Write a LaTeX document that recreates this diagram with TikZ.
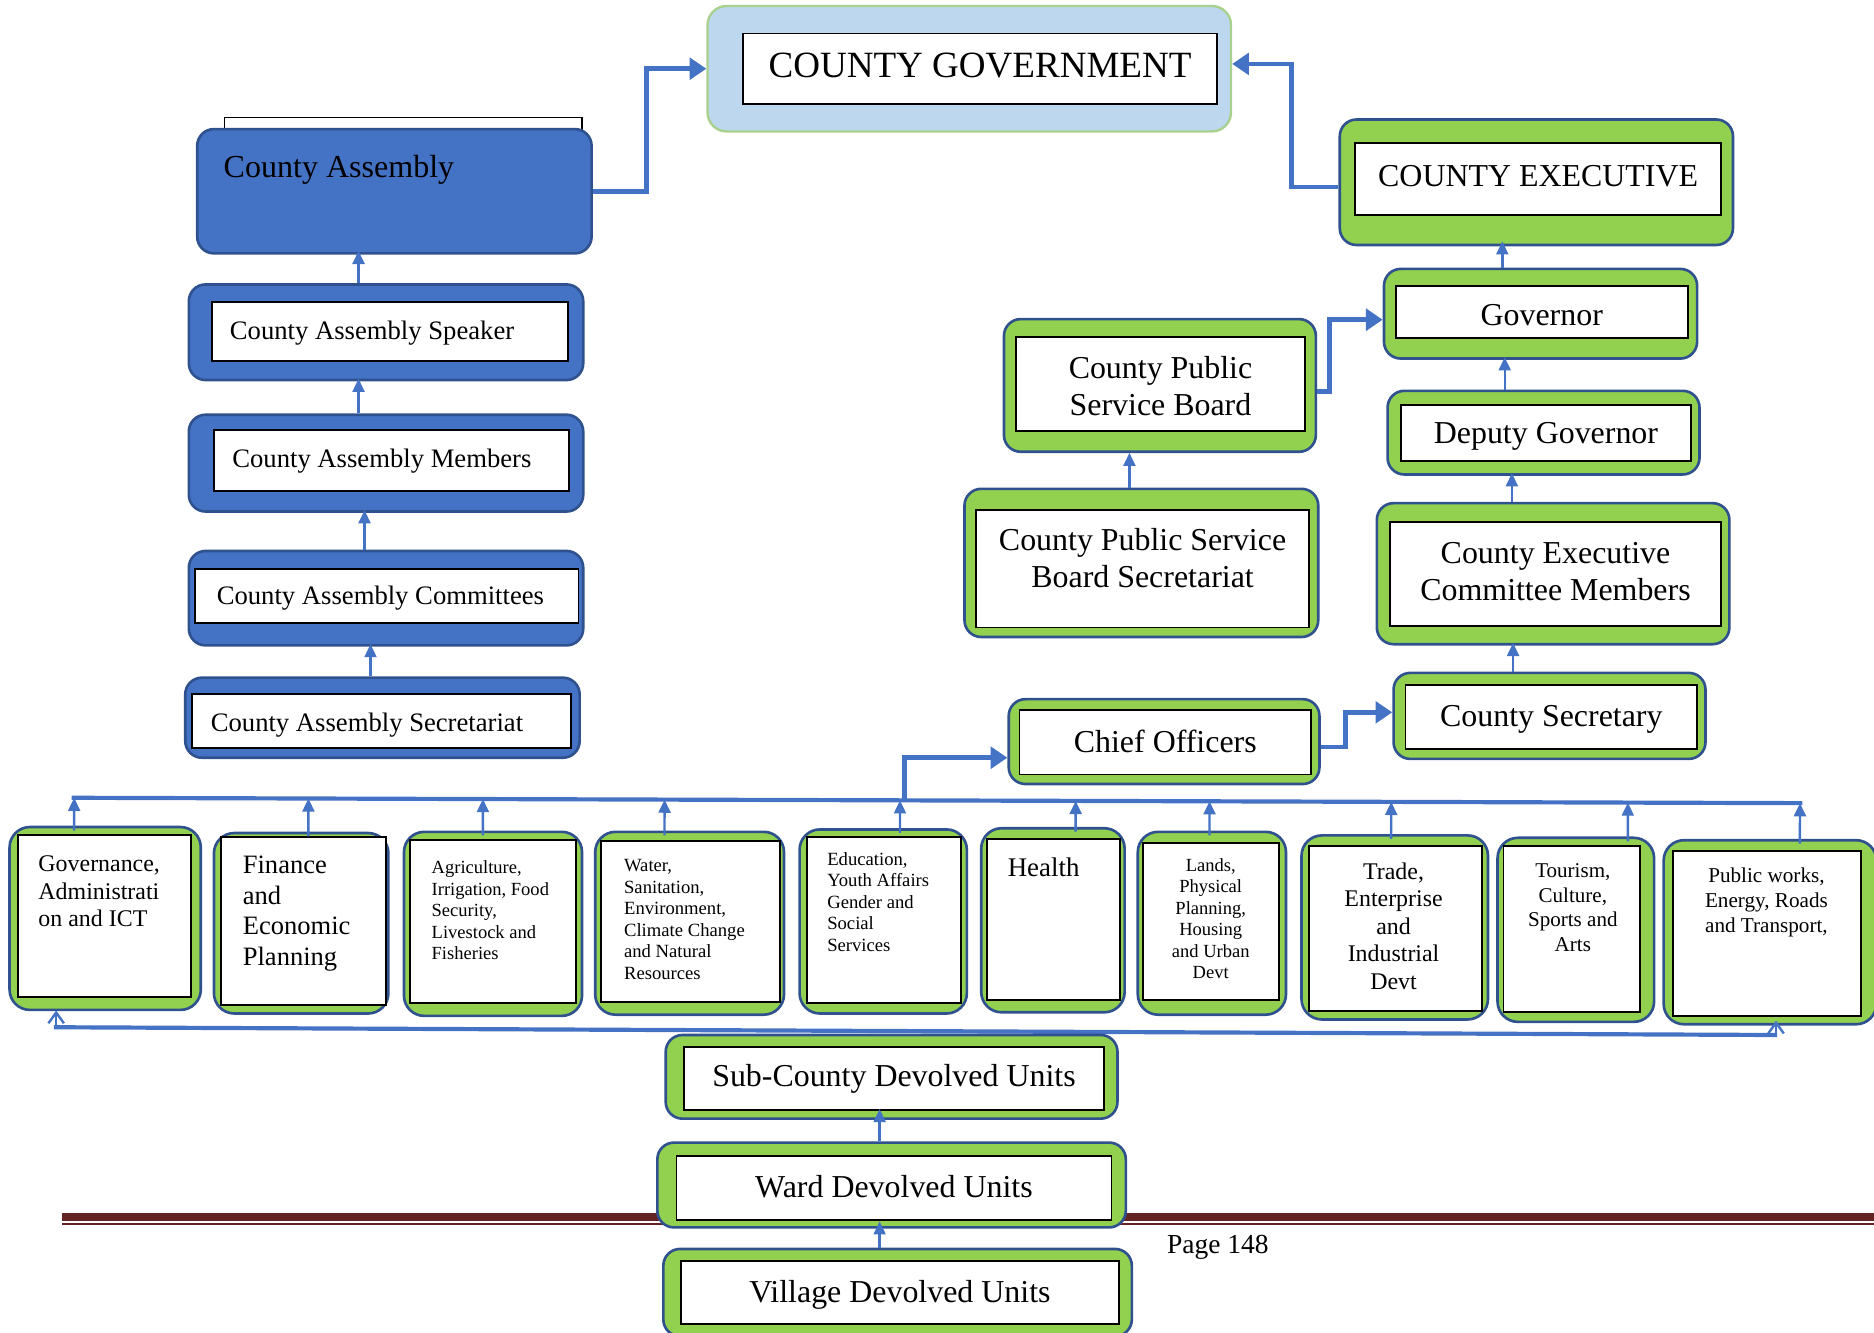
\documentclass[tikz,border=0pt]{standalone}
\usepackage{fontspec}
\setmainfont{Liberation Serif}
\usetikzlibrary{arrows.meta,calc}
\definecolor{cblue}{HTML}{4472C4}
\definecolor{cdark}{HTML}{2F528F}
\definecolor{cgreen}{HTML}{92D050}
\definecolor{clight}{HTML}{BDD7EE}
\definecolor{cgborder}{HTML}{A9D18E}
\definecolor{cfoot}{HTML}{632423}
\begin{document}
\begin{tikzpicture}[x=1pt,y=-1pt,
 greenbox/.style={draw=cdark, fill=cgreen, line width=2.2pt, rounded corners=14pt, inner sep=0pt},
 deptbox/.style={greenbox, rounded corners=17pt},
 bluebox/.style={draw=cdark, fill=cblue, line width=2.2pt, rounded corners=14pt, inner sep=0pt},
 whitebox/.style={draw=black, fill=white, line width=1.6pt, inner sep=0pt},
 txt/.style={inner sep=0pt, align=center},
 bigfont/.style={font=\fontsize{26.7}{30.7}\selectfont},
 leftfont/.style={font=\fontsize{22.3}{25.6}\selectfont},
 thickcon/.style={draw=cblue, line width=4pt, -{Triangle[length=14pt,width=18pt]}},
 thincon/.style={draw=cblue, line width=2pt, -{Triangle[length=11pt,width=10pt]}},
 busline/.style={draw=cblue, line width=3.5pt},
 barbcon/.style={draw=cblue, line width=2pt, -{Straight Barb[length=9pt,width=13pt]}},
]
\useasboundingbox (0,0) rectangle (1568,1115);

% footer rule
\coordinate (fl) at (52,1018.5);
\coordinate (fr) at (1570,1018.5);
\draw[cfoot, line width=7pt] (fl) -- (fr);
\draw[cfoot, line width=1.7pt] ($(fl)+(0,5.8)$) -- ($(fr)+(0,5.8)$);
\node[txt, font=\fontsize{23}{26}\selectfont] (page) at (1019,1044) {Page 148};

% County government
\node[draw=cgborder, fill=clight, line width=2pt, rounded corners=16pt, minimum width=438pt, minimum height=105pt] (govO) at (811,57.5) {};
\node[whitebox, minimum width=396pt, minimum height=59pt] (gov) at (820,57.5) {};
\node[txt, font=\fontsize{31}{35}\selectfont] (govT) at ($(gov)+(0,-3)$) {COUNTY GOVERNMENT};

% County assembly
\node[draw=black, fill=white, line width=1pt, minimum width=299pt, minimum height=30pt] (caBack) at (337.5,113) {};
\node[bluebox, minimum width=330pt, minimum height=104pt] (caO) at (330,160) {};
\node[txt, anchor=west, font=\fontsize{26.8}{30}\selectfont] (caT) at (187,142) {County Assembly};

\node[bluebox, minimum width=330pt, minimum height=80pt] (spO) at (323,278) {};
\node[whitebox, minimum width=298pt, minimum height=49pt] (sp) at (326,277.5) {};
\node[txt, leftfont, anchor=west] (spT) at ($(sp.west)+(16,1)$) {County Assembly Speaker};
\node[bluebox, minimum width=330pt, minimum height=81pt] (memO) at (323,387.5) {};
\node[whitebox, minimum width=297pt, minimum height=51pt] (mem) at (327.5,385.5) {};
\node[txt, leftfont, anchor=west] (memT) at ($(mem.west)+(16,0)$) {County Assembly Members};
\node[bluebox, minimum width=330pt, minimum height=79pt] (comO) at (323,500.5) {};
\node[whitebox, minimum width=321pt, minimum height=45pt] (com) at (323.5,498.5) {};
\node[txt, leftfont, anchor=west] (comT) at ($(com.west)+(19,2)$) {County Assembly Committees};
\node[bluebox, minimum width=330pt, minimum height=67pt] (secO) at (320,600.5) {};
\node[whitebox, minimum width=317pt, minimum height=45pt] (sec) at (319.5,603.5) {};
\node[txt, leftfont, anchor=west] (secT) at ($(sec.west)+(16,3)$) {County Assembly Secretariat};

% County executive side
\node[greenbox, minimum width=329pt, minimum height=105pt] (ceO) at (1285.5,152.5) {};
\node[whitebox, minimum width=306pt, minimum height=60pt] (ce) at (1287,150) {};
\node[txt, bigfont] (ceT) at ($(ce)+(0,-3)$) {COUNTY EXECUTIVE};
\node[greenbox, minimum width=262pt, minimum height=75pt] (govnO) at (1289,262.5) {};
\node[whitebox, minimum width=244pt, minimum height=44pt] (govn) at (1290,261) {};
\node[txt, bigfont] (govnT) at ($(govn)+(0,3)$) {Governor};
\node[greenbox, minimum width=261pt, minimum height=70pt] (depO) at (1291.5,362) {};
\node[whitebox, minimum width=243pt, minimum height=47pt] (dep) at (1293.5,362.5) {};
\node[txt, bigfont] (depT) at ($(dep)+(0,3)$) {Deputy Governor};
\node[greenbox, minimum width=295pt, minimum height=118pt] (cecO) at (1299.5,480) {};
\node[whitebox, minimum width=277pt, minimum height=87pt] (cec) at (1301.5,480.5) {};
\node[txt, bigfont] (cecT) at ($(cec)+(0,-2)$) {County Executive\\Committee Members};
\node[greenbox, minimum width=261pt, minimum height=72pt] (csO) at (1296.5,599) {};
\node[whitebox, minimum width=244pt, minimum height=54pt] (cs) at (1298,600) {};
\node[txt, bigfont] (csT) at ($(cs)+(0,2)$) {County Secretary};
\node[greenbox, minimum width=260pt, minimum height=71pt] (coO) at (974,620.5) {};
\node[whitebox, minimum width=244pt, minimum height=54pt] (co) at (975,621) {};
\node[txt, bigfont] (coT) at ($(co)+(0,-1)$) {Chief Officers};
\node[greenbox, minimum width=261pt, minimum height=111pt] (cpsbO) at (970.5,322.5) {};
\node[whitebox, minimum width=242pt, minimum height=79pt] (cpsb) at (971,321.5) {};
\node[txt, bigfont] (cpsbT) at ($(cpsb)+(0,1.5)$) {County Public\\Service Board};
\node[greenbox, minimum width=296pt, minimum height=124pt] (cpssO) at (955,471) {};
\node[whitebox, minimum width=278pt, minimum height=98pt] (cpss) at (956,476) {};
\node[txt, bigfont] (cpssT) at ($(cpss)+(0,-9)$) {County Public Service\\Board Secretariat};

% connectors top
\draw[thickcon] (caO.east) -- ++(45,0) |- (govO.west);
\draw[thickcon] ($(ceO.west)+(0,4)$) -- ++(-39,0) |- ($(govO.east)+(0,-4)$);
\draw[thickcon] ($(cpsbO.east)+(0,5)$) -- ++(10,0) |- ($(govnO.west)+(0,5)$);
\draw[thickcon] ($(coO.east)+(0,4.5)$) -- ++(21,0) |- ($(csO.west)+(0,-3)$);

\draw[thincon] ($(spO.north)+(-23,0)$) -- ++(0,-27);
\draw[thincon] ($(memO.north)+(-23,0)$) -- ++(0,-29);
\draw[thincon] ($(comO.north)+(-18,0)$) -- ++(0,-33);
\draw[thincon] ($(secO.north)+(-10,0)$) -- ++(0,-27);
\draw[thincon] ($(govnO.north)+(-32,0)$) -- ++(0,-22);
\draw[thincon] ($(depO.north)+(-32.5,0)$) -- ++(0,-27);
\draw[thincon] ($(cecO.north)+(-34.5,0)$) -- ++(0,-24);
\draw[thincon] ($(csO.north)+(-30.5,0)$) -- ++(0,-24);
\draw[thincon] ($(cpssO.north)+(-10,0)$) -- ++(0,-29);

% departments
\node[deptbox, minimum width=160pt, minimum height=153pt] (d1O) at (88,768.5) {};
\node[whitebox, minimum width=145pt, minimum height=135pt] (d1) at (87.5,766.5) {};
\node[txt, anchor=north west, align=left, font=\fontsize{20}{23}\selectfont] (d1t) at (32,716) {Governance,\\Administrati\\on and ICT};

\node[deptbox, minimum width=146pt, minimum height=151pt] (d2O) at (252,772.5) {};
\node[whitebox, minimum width=138pt, minimum height=141pt] (d2) at (254,770.5) {};
\node[txt, anchor=north west, align=left, font=\fontsize{22.2}{25.7}\selectfont] (d2t) at (203,716) {Finance\\and\\Economic\\Planning};

\node[deptbox, minimum width=149pt, minimum height=154pt] (d3O) at (412.5,773) {};
\node[whitebox, minimum width=139pt, minimum height=136pt] (d3) at (412.5,771) {};
\node[txt, anchor=north west, align=left, font=\fontsize{15.5}{18}\selectfont] (d3t) at (361,720) {Agriculture,\\Irrigation, Food\\Security,\\Livestock and\\Fisheries};

\node[deptbox, minimum width=158pt, minimum height=153pt] (d4O) at (577,772.5) {};
\node[whitebox, minimum width=150pt, minimum height=134pt] (d4) at (578,771) {};
\node[txt, anchor=north west, align=left, font=\fontsize{15.6}{18}\selectfont] (d4t) at (522,719) {Water,\\Sanitation,\\Environment,\\Climate Change\\and Natural\\Resources};

\node[deptbox, minimum width=140pt, minimum height=154pt] (d5O) at (739,771) {};
\node[whitebox, minimum width=129pt, minimum height=139pt] (d5) at (739.5,769.5) {};
\node[txt, anchor=north west, align=left, font=\fontsize{15.6}{18}\selectfont] (d5t) at (692,713) {Education,\\Youth Affairs\\Gender and\\Social\\Services};

\node[deptbox, minimum width=120pt, minimum height=154pt] (d6O) at (881,770) {};
\node[whitebox, minimum width=111pt, minimum height=135pt] (d6) at (881.5,769.5) {};
\node[txt, anchor=north west, align=left, font=\fontsize{22.5}{26}\selectfont] (d6t) at (843,717.5) {Health};

\node[deptbox, minimum width=124pt, minimum height=153pt] (d7O) at (1014,772.5) {};
\node[whitebox, minimum width=114pt, minimum height=132pt] (d7) at (1013,771) {};
\node[txt, anchor=north, font=\fontsize{15.5}{18}\selectfont] (d7t) at (1013,718) {Lands,\\Physical\\Planning,\\Housing\\and Urban\\Devt};

\node[deptbox, minimum width=156pt, minimum height=154pt] (d8O) at (1167,776) {};
\node[whitebox, minimum width=145pt, minimum height=138pt] (d8) at (1167.5,777) {};
\node[txt, anchor=north, font=\fontsize{20}{23}\selectfont] (d8t) at (1166,721.5) {Trade,\\Enterprise\\and\\Industrial\\Devt};

\node[deptbox, minimum width=131pt, minimum height=154pt] (d9O) at (1318.5,778) {};
\node[whitebox, minimum width=114pt, minimum height=139pt] (d9) at (1315,777.5) {};
\node[txt, anchor=north, font=\fontsize{17.6}{20.5}\selectfont] (d9t) at (1316,722.5) {Tourism,\\Culture,\\Sports and\\Arts};

\node[deptbox, minimum width=178pt, minimum height=154pt] (d10O) at (1481,780) {};
\node[whitebox, minimum width=157pt, minimum height=138pt] (d10) at (1478.5,781) {};
\node[txt, anchor=north, font=\fontsize{17.7}{21}\selectfont] (d10t) at (1478,725.5) {Public works,\\Energy, Roads\\and Transport,};

% top bus
\coordinate (busL) at (60,667.5);
\coordinate (busR) at (1508,672);
\coordinate (busJ) at (757,670);
\draw[busline] (busL) -- (busR);
\draw[thickcon] (busJ) |- ($(coO.west)+(0,13.5)$);
\foreach \n/\dx in {1/-26,2/6,3/-8.5,4/-21,5/14,6/19,7/-2,8/-3,9/43.5,10/25}{
  \path ($(d\n O.north)+(\dx,4)$) coordinate (tp\n);
  \draw[thincon] (tp\n) -- ($(busL)!(tp\n)!(busR)$);
}

% bottom bus
\coordinate (bbL) at (45,859.5);
\coordinate (bbR) at (1487,866);
\draw[busline] (bbL) -- (bbR);
\draw[barbcon] ($(bbL)+(2,0)$) -- ++(0,-14);
\draw[barbcon] ($(bbR)+(-1,0)$) -- ++(0,-12);

% devolved units
\node[greenbox, minimum width=378pt, minimum height=70pt] (subO) at (746,901) {};
\node[whitebox, minimum width=352pt, minimum height=53pt] (sub) at (748,902.5) {};
\node[txt, bigfont] (subT) at ($(sub)+(0,0)$) {Sub-County Devolved Units};
\node[greenbox, minimum width=392pt, minimum height=71pt] (wardO) at (746,991.5) {};
\node[whitebox, minimum width=364pt, minimum height=54pt] (ward) at (748,994) {};
\node[txt, bigfont] (wardT) at ($(ward)+(0,-1)$) {Ward Devolved Units};
\node[greenbox, minimum width=392pt, minimum height=73pt] (villO) at (751,1081.5) {};
\node[whitebox, minimum width=366pt, minimum height=53pt] (vill) at (753,1081.5) {};
\node[txt, bigfont] (villT) at ($(vill)+(0,2)$) {Village Devolved Units};

\draw[thincon] ($(wardO.north)+(-10,0)$) -- ++(0,-27);
\draw[thincon] ($(villO.north)+(-15,0)$) -- ++(0,-22);
\end{tikzpicture}
\end{document}
